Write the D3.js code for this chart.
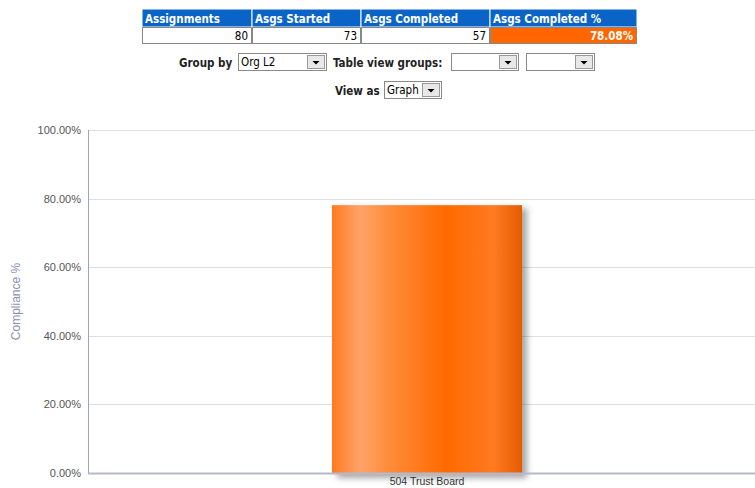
<!DOCTYPE html>
<html>
<head>
<meta charset="utf-8">
<script src="https://cdn.jsdelivr.net/npm/d3@7"></script>
<style>
  body { margin: 0; background: #fff; }
  svg { display: block; }
</style>
</head>
<body>
<svg width="755" height="488"></svg>
<script>
const svg = d3.select("svg");

// summary table
const headers = ["Assignments", "Asgs Started", "Asgs Completed", "Asgs Completed %"];
const summary = ["80", "73", "57", "78.08%"];

// chart data
const categories = ["504 Trust Board"];
const compliance = [78.08];
const yTicks = [0, 20, 40, 60, 80, 100];

const uiFont = "Tahoma, 'DejaVu Sans Condensed', 'DejaVu Sans', sans-serif";
const axisFont = "Arial, 'Liberation Sans', sans-serif";

// ---- table ----
const colX = [142, 252, 361, 490, 637];
const table = svg.append("g");
const cols = table.selectAll("g").data(headers).enter().append("g");

cols.append("rect")
  .attr("x", (d, i) => colX[i]).attr("y", 9)
  .attr("width", (d, i) => colX[i + 1] - colX[i]).attr("height", 18)
  .attr("fill", "#0a64c8").attr("stroke", "#fff").attr("stroke-width", 1);
cols.append("text")
  .attr("x", (d, i) => colX[i] + 3).attr("y", 23)
  .attr("fill", "#fff").attr("font-family", uiFont).attr("font-weight", "bold")
  .attr("font-size", 11.5).text(d => d);

cols.append("rect")
  .attr("x", (d, i) => colX[i] + 0.5).attr("y", 27.5)
  .attr("width", (d, i) => colX[i + 1] - colX[i] - 1).attr("height", 16)
  .attr("fill", (d, i) => i === 3 ? "#ff6600" : "#fff")
  .attr("stroke", "#888").attr("stroke-width", 1);
cols.append("text")
  .attr("x", (d, i) => colX[i + 1] - 4).attr("y", 40)
  .attr("text-anchor", "end")
  .attr("fill", (d, i) => i === 3 ? "#fff" : "#000")
  .attr("font-weight", (d, i) => i === 3 ? "bold" : "normal")
  .attr("font-family", uiFont).attr("font-size", 11.5)
  .text((d, i) => summary[i]);

// ---- controls ----
const label = (x, y, t) => svg.append("text")
  .attr("x", x).attr("y", y).attr("font-family", uiFont)
  .attr("font-weight", "bold").attr("font-size", 11.5).attr("fill", "#222").text(t);

const select = (x, y, w, t) => {
  const g = svg.append("g").attr("transform", `translate(${x},${y})`);
  g.append("rect").attr("x", 0.5).attr("y", 0.5).attr("width", w - 1).attr("height", 17)
    .attr("fill", "#fff").attr("stroke", "#8a8a8a");
  g.append("rect").attr("x", w - 19.5).attr("y", 2.5).attr("width", 17).attr("height", 13)
    .attr("fill", "#e8e8e8").attr("stroke", "#999");
  g.append("path")
    .attr("d", `M${w - 14.5},8 L${w - 7.5},8 L${w - 11},11.5 Z`).attr("fill", "#000");
  if (t) g.append("text").attr("x", 3).attr("y", 13).attr("font-family", uiFont)
    .attr("font-size", 11.5).attr("fill", "#000").text(t);
};

label(179, 67, "Group by");
select(238, 53, 89, "Org L2");
label(333, 67, "Table view groups:");
select(451, 53, 68, "");
select(526, 53, 69, "");
label(335, 95, "View as");
select(384, 81, 58, "Graph");

// ---- chart ----
const margin = { left: 88, top: 130, bottom: 473 };

const y = d3.scaleLinear().domain([0, 100]).range([margin.bottom, margin.top]);
const x = d3.scaleBand().domain(categories).range([margin.left, 766])
  .paddingInner(0).paddingOuter(1.284);

const defs = svg.append("defs");
const grad = defs.append("linearGradient").attr("id", "barGrad")
  .attr("x1", "0%").attr("x2", "100%").attr("y1", "0%").attr("y2", "0%");
[[0, "#ff7a22"], [0.15, "#ffa46a"], [0.3, "#ff8c3a"], [0.6, "#ff6a00"], [0.85, "#ff7a22"], [1, "#e55c00"]]
  .forEach(([o, c]) => grad.append("stop").attr("offset", o).attr("stop-color", c));

const blur = defs.append("filter").attr("id", "shadow")
  .attr("x", "-10%").attr("y", "-10%").attr("width", "130%").attr("height", "130%");
blur.append("feGaussianBlur").attr("stdDeviation", 3);

// gridlines
svg.append("g").selectAll("line").data(yTicks.slice(1)).enter().append("line")
  .attr("x1", margin.left).attr("x2", 755)
  .attr("y1", d => Math.round(y(d)) + 0.5).attr("y2", d => Math.round(y(d)) + 0.5)
  .attr("stroke", "#dedee6");

// y labels
svg.append("g").selectAll("text").data(yTicks).enter().append("text")
  .attr("x", 81).attr("y", d => y(d) + 4).attr("text-anchor", "end")
  .attr("font-family", axisFont).attr("font-size", 11).attr("fill", "#555")
  .text(d => d3.format(".2f")(d) + "%");

svg.append("text")
  .attr("transform", `translate(20,${(margin.top + margin.bottom) / 2}) rotate(-90)`)
  .attr("text-anchor", "middle").attr("font-family", axisFont).attr("font-size", 12)
  .attr("fill", "#8a90b0").text("Compliance %");

// bars
const bars = svg.append("g").selectAll("g").data(categories).enter().append("g");
bars.append("rect")
  .attr("x", d => x(d) + 5).attr("y", (d, i) => y(compliance[i]) + 3)
  .attr("width", x.bandwidth()).attr("height", (d, i) => margin.bottom - y(compliance[i]) + 2)
  .attr("fill", "#000").attr("opacity", 0.35).attr("filter", "url(#shadow)");
bars.append("rect")
  .attr("x", d => x(d)).attr("y", (d, i) => y(compliance[i]))
  .attr("width", x.bandwidth()).attr("height", (d, i) => margin.bottom - y(compliance[i]))
  .attr("fill", "url(#barGrad)");

// axes lines
svg.append("line").attr("x1", margin.left + 0.5).attr("x2", margin.left + 0.5)
  .attr("y1", margin.top).attr("y2", margin.bottom).attr("stroke", "#a0a0c0");
svg.append("line").attr("x1", margin.left).attr("x2", 755)
  .attr("y1", margin.bottom + 0.5).attr("y2", margin.bottom + 0.5)
  .attr("stroke", "#b8b8cc").attr("stroke-width", 2);

// x labels
svg.append("g").selectAll("text").data(categories).enter().append("text")
  .attr("x", d => x(d) + x.bandwidth() / 2).attr("y", 485)
  .attr("text-anchor", "middle").attr("font-family", axisFont).attr("font-size", 10.5)
  .attr("fill", "#333").text(d => d);
</script>
</body>
</html>
